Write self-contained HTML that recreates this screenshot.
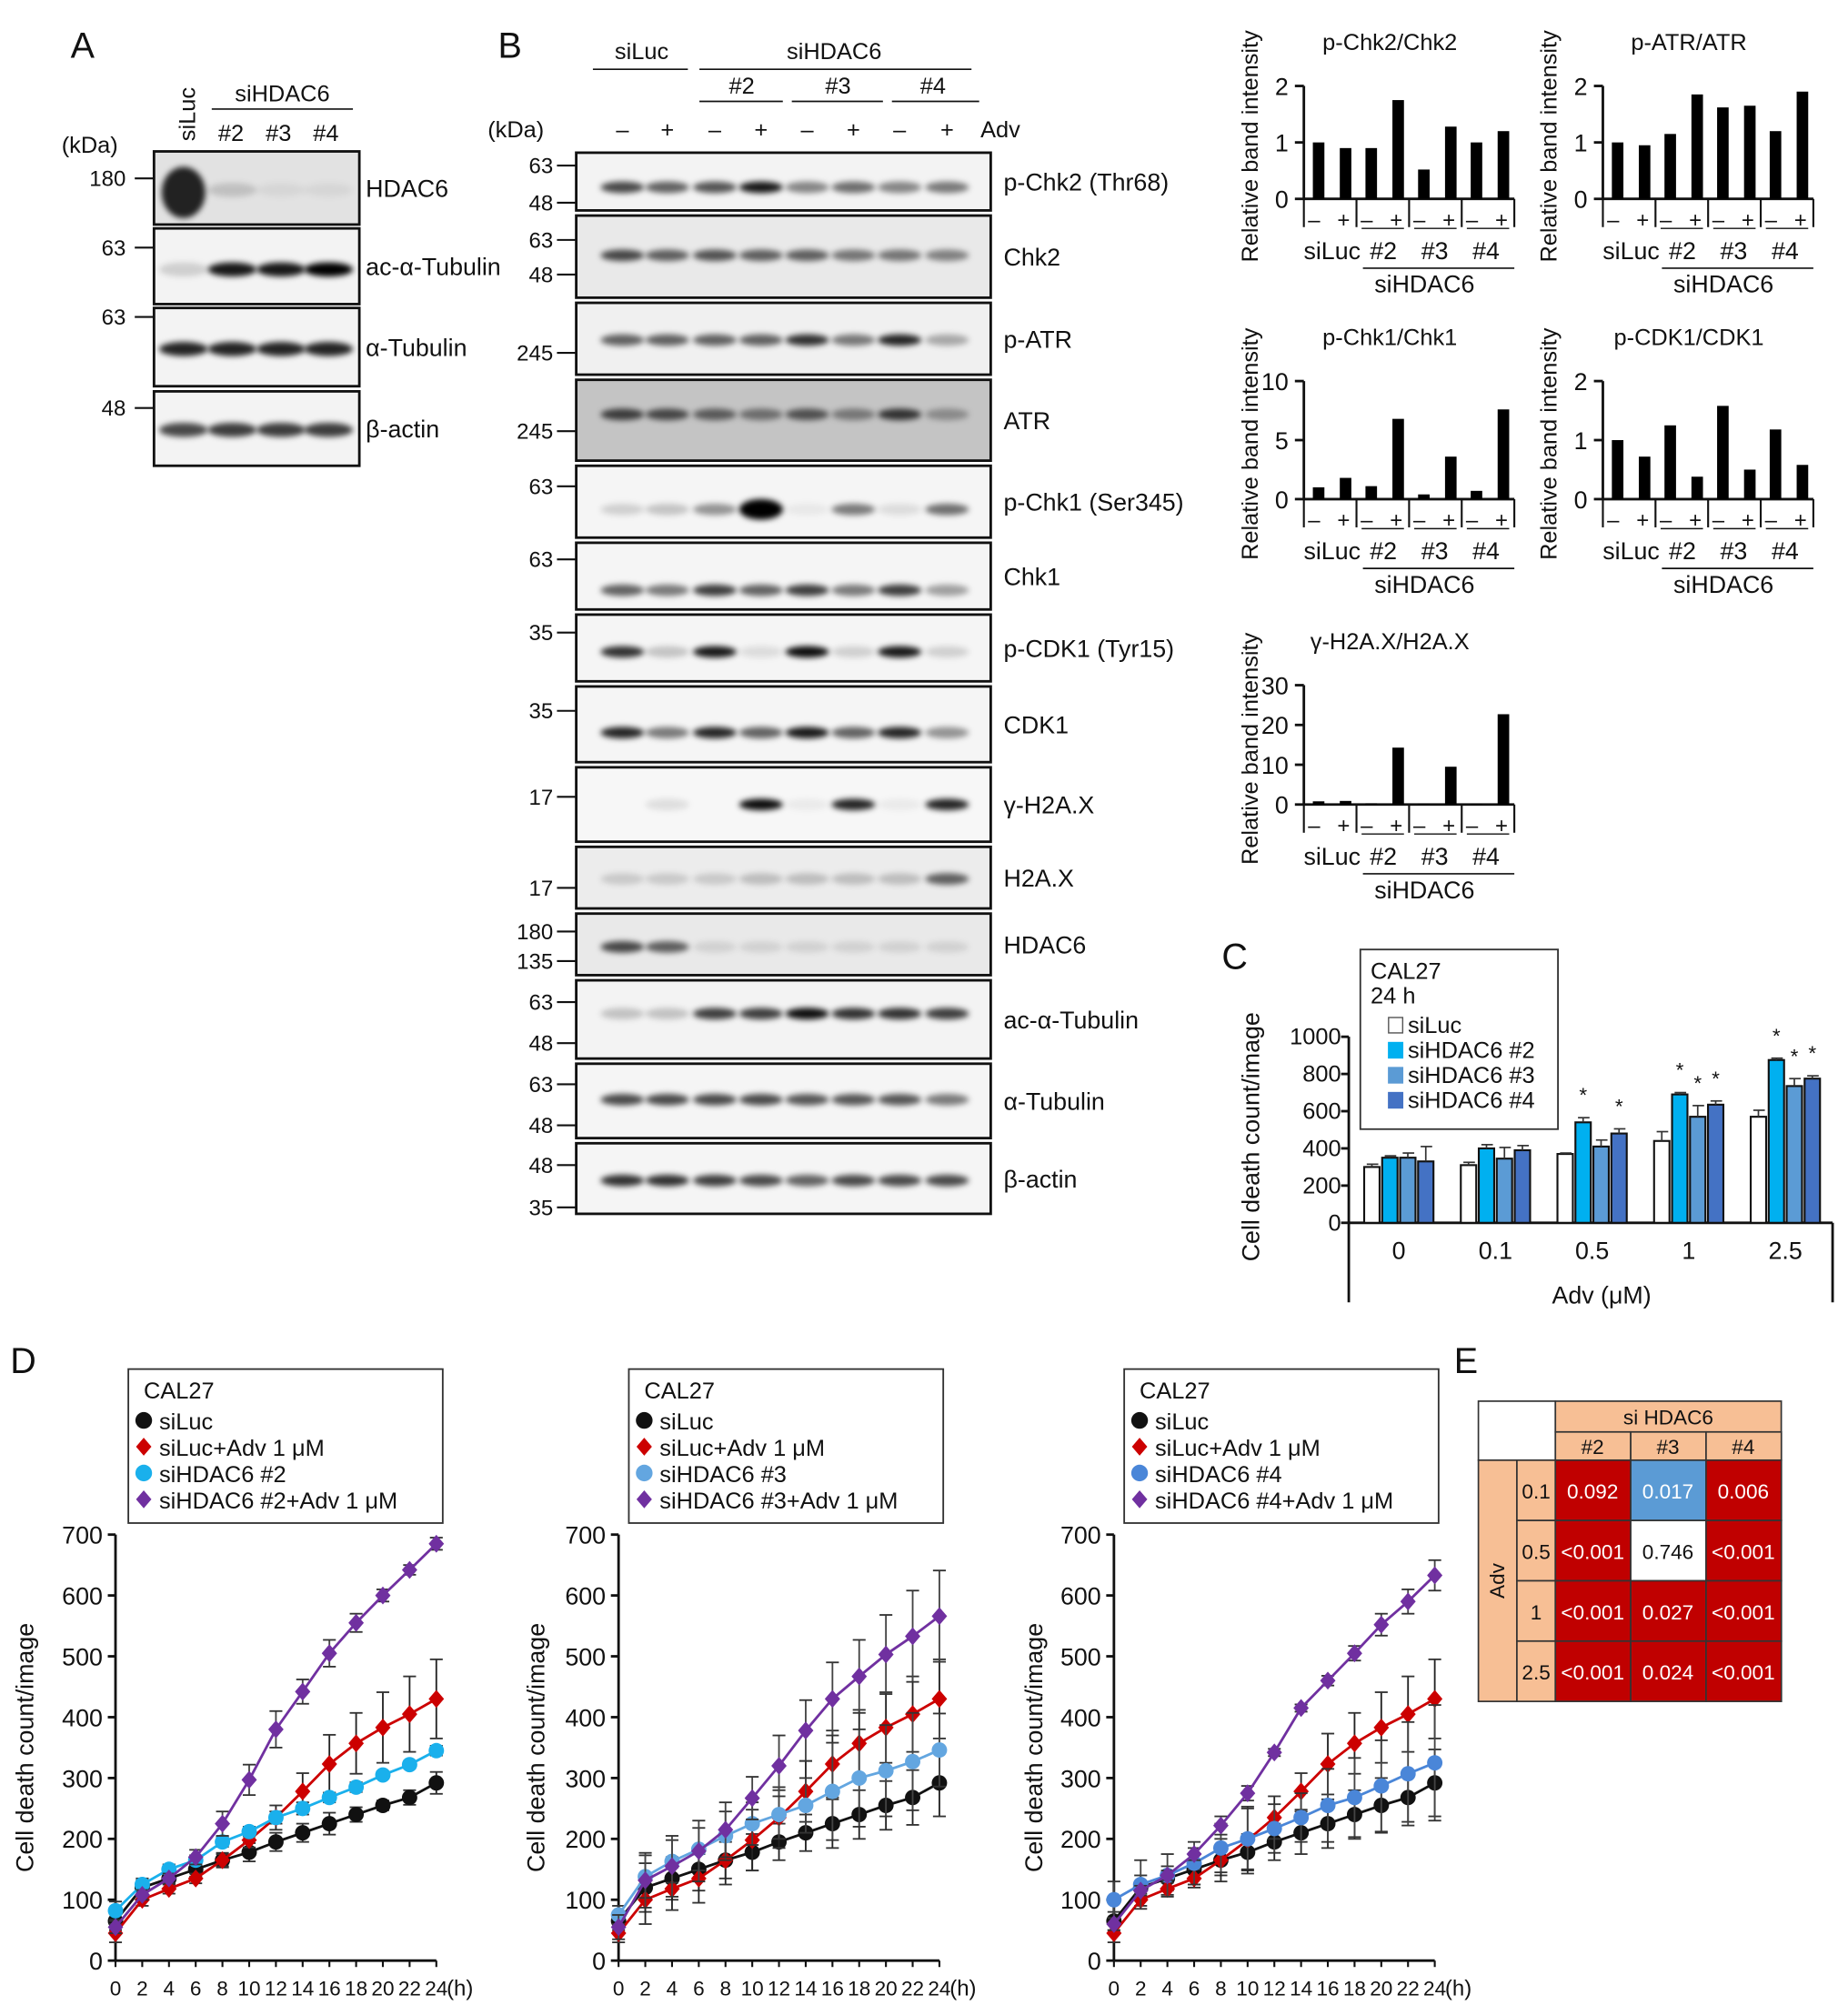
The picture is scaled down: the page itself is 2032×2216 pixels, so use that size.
<!DOCTYPE html>
<html><head><meta charset="utf-8"><style>
html,body{margin:0;padding:0;background:#fff;}
svg{display:block;font-family:"Liberation Sans",Arial,sans-serif;}
</style></head><body>
<svg id="fig" xmlns="http://www.w3.org/2000/svg" width="2032" height="2216" viewBox="0 0 1440 1570.4">
<defs><filter id="bl" x="-50%" y="-200%" width="200%" height="500%"><feGaussianBlur stdDeviation="2.2"/></filter></defs>
</svg>
<script>
// ---------- data ----------
// Panel A blots
const aRows=["HDAC6","ac-α-Tubulin","α-Tubulin","β-actin"];
const aBands=[[1,0.15,0.05,0.05],[0.15,0.9,0.9,1],[0.85,0.85,0.85,0.85],[0.7,0.75,0.75,0.75]];
// Panel B blots
const bRows=["p-Chk2 (Thr68)","Chk2","p-ATR","ATR","p-Chk1 (Ser345)","Chk1","p-CDK1 (Tyr15)","CDK1","γ-H2A.X","H2A.X","HDAC6","ac-α-Tubulin","α-Tubulin","β-actin"];
const bBands=[
[.7,.6,.65,.9,.45,.55,.45,.5],[.7,.6,.65,.6,.6,.5,.5,.45],[.6,.6,.6,.6,.8,.5,.85,.3],[.7,.65,.55,.45,.6,.4,.75,.3],
[.15,.2,.4,1,.05,.5,.1,.55],[.6,.5,.75,.6,.75,.5,.75,.35],[.8,.2,.9,.1,.95,.15,.9,.15],[.85,.5,.85,.6,.9,.6,.85,.4],
[0,.1,0,.95,.05,.85,.05,.85],[.15,.15,.15,.2,.2,.2,.2,.6],[.7,.6,.1,.1,.1,.1,.1,.1],[.2,.2,.75,.75,.95,.8,.8,.75],
[.7,.7,.7,.7,.65,.65,.65,.5],[.8,.8,.75,.7,.6,.7,.7,.7]];
// Quantification bar charts
const qTitles=["p-Chk2/Chk2","p-ATR/ATR","p-Chk1/Chk1","p-CDK1/CDK1","γ-H2A.X/H2A.X"];
const qMax=[2,2,10,2,30];
const qTicks=[[0,1,2],[0,1,2],[0,5,10],[0,1,2],[0,10,20,30]];
const qChk2=[1.0,0.9,0.9,1.75,0.52,1.28,1.0,1.2];
const qATR=[1.0,0.95,1.15,1.85,1.62,1.65,1.2,1.9];
const qChk1=[1.0,1.8,1.1,6.8,0.4,3.6,0.7,7.6];
const qCDK1=[1.0,0.72,1.25,0.38,1.58,0.5,1.18,0.58];
const qH2AX=[0.8,0.9,0.3,14.3,0.2,9.5,0.1,22.7];
// Panel C
const cCats=["0","0.1","0.5","1","2.5"];
const cSeries=["siLuc","siHDAC6 #2","siHDAC6 #3","siHDAC6 #4"];
const cLuc=[300,310,370,440,570];
const cH2=[350,400,540,690,875];
const cH3=[350,345,410,570,735];
const cH4=[330,390,480,635,775];
const cErrLuc=[15,15,5,50,35];
const cErrH2=[10,20,25,10,10];
const cErrH3=[25,60,35,60,40];
const cErrH4=[80,25,25,20,15];
const cStars=[[0,0,0,0],[0,0,0,0],[0,1,0,1],[0,1,1,1],[0,1,1,1]];
const cTicks=[0,200,400,600,800,1000];
// Panel D
const dHours=[0,2,4,6,8,10,12,14,16,18,20,22,24];
const dTicks=[0,100,200,300,400,500,600,700];
const dLuc=[65,120,135,150,165,178,195,210,225,240,255,268,292];
const dLucAdv=[45,100,118,135,165,198,235,278,323,357,383,405,430];
const d1H=[82,125,150,165,195,212,235,250,268,285,305,322,345];
const d1HAdv=[55,108,135,170,225,297,380,442,505,555,600,642,685];
const d2H=[75,138,163,183,205,225,240,255,278,300,312,327,346];
const d2HAdv=[55,132,155,180,215,267,320,378,430,467,503,533,566];
const d3H=[100,125,140,160,185,200,217,235,255,268,287,307,325];
const d3HAdv=[60,115,140,175,222,275,342,415,460,505,552,590,633];
const e1Luc=[15,12,10,12,12,15,15,15,18,12,8,12,18];
const e1LucAdv=[15,10,8,8,10,12,20,30,48,50,58,62,65];
const e1H=[15,10,8,8,8,8,10,10,8,8,6,6,8];
const e1HAdv=[10,8,8,12,20,25,30,20,22,15,10,8,10];
const e2Luc=[15,40,35,35,30,30,30,30,40,40,40,45,55];
const e2LucAdv=[15,40,35,40,40,50,50,50,55,55,58,62,65];
const e2H=[15,35,35,35,40,35,40,45,80,80,75,80,60];
const e2HAdv=[20,45,50,50,45,35,50,50,60,60,65,75,75];
const e3Luc=[15,20,20,25,25,30,30,35,40,40,45,40,55];
const e3LucAdv=[15,10,10,15,35,55,35,30,50,50,58,62,65];
const e3H=[30,40,35,35,40,50,40,40,60,65,75,85,95];
const e3HAdv=[10,8,8,10,15,12,6,6,8,12,18,20,25];
// Panel E
const eCols=["#2","#3","#4"];
const eRowLabels=["0.1","0.5","1","2.5"];
const eVals=[["0.092","0.017","0.006"],["<0.001","0.746","<0.001"],["<0.001","0.027","<0.001"],["<0.001","0.024","<0.001"]];
const eColors=[["#c00000","#5b9bd5","#c00000"],["#c00000","#ffffff","#c00000"],["#c00000","#c00000","#c00000"],["#c00000","#c00000","#c00000"]];

// ---------- helpers ----------
const NS="http://www.w3.org/2000/svg";
const svg=document.getElementById('fig');
function mk(tag,attrs,name,parent){
  const el=document.createElementNS(NS,tag);
  for(const k in attrs) el.setAttribute(k,attrs[k]);
  
  
  (parent||svg).appendChild(el);return el;}
function tx(x,y,s,size,name,opt){
  opt=opt||{};
  const el=mk('text',{x:x,y:y,'font-size':size,'text-anchor':opt.a||'start',fill:opt.fill||'#111','font-weight':opt.w||'normal'},name,opt.p);
  if(opt.rot) el.setAttribute('transform','rotate('+opt.rot+' '+x+' '+y+')');
  el.textContent=s;return el;}
function ln(x1,y1,x2,y2,name,w,c){return mk('line',{x1:x1,y1:y1,x2:x2,y2:y2,stroke:c||'#111','stroke-width':w||1.5},name);}

// ---------- Panel letters ----------
[["A",55,45],["B",388,45],["C",952,755],["D",8,1070],["E",1133,1070]].forEach(p=>tx(p[1],p[2],p[0],28,'panel-label-'+p[0].toLowerCase()));

// ---------- Panel A ----------
tx(152,110,"siLuc",18,'lane-label-siluc',{rot:-90});
tx(220,79,"siHDAC6",18,'group-label-sihdac6',{a:'middle'});
ln(165,85,275,85,'group-line-sihdac6',1.2);
["#2","#3","#4"].forEach((s,i)=>tx(180+i*37,110,s,18,'lane-label-'+s,{a:'middle'}));
tx(48,119,"(kDa)",18,'kda-label-a');
const aBox=[[118,175],[178,237],[240,301],[305,363]];
const aMW=[[["180",139]],[["63",193]],[["63",247]],[["48",318]]];
const aLanes=[143,181,219,256];
aRows.forEach((r,i)=>{
  const [y0,y1]=aBox[i];
  mk('rect',{x:120,y:y0,width:160,height:y1-y0,fill:i==0?'#e2e2e2':'#f3f3f3',stroke:'#111','stroke-width':2},'blot-a-'+i);
  aBands[i].forEach((v,j)=>{
    const cy=[148,210,272,335][i];
    const big=i==0&&j==0;
    mk('ellipse',{cx:aLanes[j],cy:big?150:cy,rx:big?17:19,ry:big?20:5.5,fill:'#000','fill-opacity':big?0.85:v,filter:'url(#bl)'},'band-a-'+i+'-'+j);
  });
  tx(285,(y0+y1)/2+7,r,19,'blot-a-label-'+i);
  aMW[i].forEach(m=>{tx(98,m[1]+6,m[0],17,'mw-a',{a:'end'});ln(105,m[1],120,m[1],'mw-tick-a',1.5);});
});

// ---------- Panel B ----------
tx(500,46,"siLuc",18,'group-label-siluc-b',{a:'middle'});ln(462,54,536,54,'line-siluc-b',1.2);
tx(650,46,"siHDAC6",18,'group-label-sihdac6-b',{a:'middle'});ln(545,54,757,54,'line-sihdac6-b',1.2);
[["#2",578,545,610],["#3",653,617,688],["#4",727,695,763]].forEach(g=>{tx(g[1],73,g[0],18,'sub-label-b',{a:'middle'});ln(g[2],79,g[3],79,'sub-line-b',1.2);});
tx(380,107,"(kDa)",18,'kda-label-b');
const bLanes=[485,520,557,593,629,665,701,738];
bLanes.forEach((x,i)=>tx(x,107,i%2?"+":"–",18,'adv-sign-b',{a:'middle'}));
tx(764,107,"Adv",18,'adv-label-b');
const bBox=[[119,164],[168,232],[236,292],[296,359],[363,419],[423,475],[479,531],[535,594],[598,656],[660,708],[712,760],[764,825],[829,887],[891,946]];
const bMW=[[["63",129],["48",158]],[["63",187],["48",214]],[["245",275]],[["245",336]],[["63",379]],[["63",436]],[["35",493]],[["35",554]],[["17",621]],[["17",692]],[["180",726],["135",749]],[["63",781],["48",813]],[["63",845],["48",877]],[["48",908],["35",941]]];
const bBandY=[146,199,265,323,397,460,508,571,627,685,738,790,857,920];
const bBg=['#f3f3f3','#e9e9e9','#f0f0f0','#c4c4c4','#f5f5f5','#f5f5f5','#f5f5f5','#f5f5f5','#f7f7f7','#ececec','#e9e9e9','#f3f3f3','#f5f5f5','#f5f5f5'];
bRows.forEach((r,i)=>{
  const [y0,y1]=bBox[i];
  mk('rect',{x:449,y:y0,width:323,height:y1-y0,fill:bBg[i],stroke:'#111','stroke-width':2},'blot-b-'+i);
  bBands[i].forEach((v,j)=>{
    if(v<=0) return;
    mk('ellipse',{cx:bLanes[j],cy:bBandY[i],rx:17,ry:(i==4&&j==3)?8:4.5,fill:'#000','fill-opacity':v,filter:'url(#bl)'},'band-b-'+i+'-'+j);
  });
  tx(782,(y0+y1)/2+7,r,19,'blot-b-label-'+i);
  bMW[i].forEach(m=>{tx(431,m[1]+6,m[0],17,'mw-b',{a:'end'});ln(434,m[1],449,m[1],'mw-tick-b',1.5);});
});

// ---------- Quantification bar charts ----------
const qData=[qChk2,qATR,qChk1,qCDK1,qH2AX];
const qPos=[[1016,67,155],[1249,67,155],[1016,297,389],[1249,297,389],[1016,534,627]];
qData.forEach((vals,k)=>{
  const [x0,yt,yb]=qPos[k];
  const yS=v=>yb-(v/qMax[k])*(yb-yt);
  const xS=i=>x0+11+Math.floor(i/2)*41+(i%2)*21;
  tx(x0+67,yt-28,qTitles[k],18,'quant-title-'+k,{a:'middle'});
  tx(x0-36,(yt+yb)/2+3,"Relative band intensity",18,'quant-ylabel-'+k,{a:'middle',rot:-90});
  ln(x0,yt,x0,yb,'quant-yaxis-'+k,2);
  qTicks[k].forEach(t=>{ln(x0-7,yS(t),x0,yS(t),'quant-ytick',2);tx(x0-12,yS(t)+7,String(t),19,'quant-ytick-label',{a:'end'});});
  ln(x0,yb,x0+164,yb,'quant-xaxis-'+k,2);
  [0,1,2,3,4].forEach(g=>ln(x0+g*41,yb,x0+g*41,yb+22,'quant-group-sep',1.5));
  vals.forEach((v,i)=>{
    mk('rect',{x:xS(i)-4,y:yS(v),width:9,height:yb-yS(v),fill:'#000'},'quant-bar-'+k+'-'+i);
    tx(xS(i)+(i%2?-1:-3),yb+22,i%2?"+":"–",17,'quant-sign',{a:'middle'});
  });
  [1,2,3].forEach(g=>ln(x0+g*41+4,yb+23,x0+g*41+37,yb+23,'quant-sub-line',1));
  tx(x0+22,yb+47,"siLuc",19,'quant-siluc-label',{a:'middle'});
  ["#2","#3","#4"].forEach((s,g)=>tx(x0+62+g*40,yb+47,s,19,'quant-sub-label',{a:'middle'}));
  ln(x0+46,yb+54,x0+164,yb+54,'quant-sihdac6-line',1.2);
  tx(x0+94,yb+73,"siHDAC6",19,'quant-sihdac6-label',{a:'middle'});
});

// ---------- Panel C ----------
(function(){
  const x0=1051,yb=953,yt=808,xr=1428;
  const yS=v=>yb-(v/1000)*(yb-yt);
  const gX=i=>1063+i*75.3;
  const cols=['#ffffff','#00b0f0','#5b9bd5','#4472c4'];
  const vals=[cLuc,cH2,cH3,cH4];const errs=[cErrLuc,cErrH2,cErrH3,cErrH4];
  ln(x0,yt,x0,1015,'c-yaxis',2);ln(x0,yb,xr,yb,'c-xaxis',2);ln(xr,yb,xr,1015,'c-right-line',2);
  cTicks.forEach(t=>{ln(x0-6,yS(t),x0,yS(t),'c-ytick',2);tx(x0-6,yS(t)+6,String(t),18,'c-ytick-label',{a:'end'});});
  tx(981,886,"Cell death count/image",19,'c-ylabel',{a:'middle',rot:-90});
  cCats.forEach((c,i)=>{
    tx(gX(i)+27,981,c,19,'c-xtick-label',{a:'middle'});
    for(let s=0;s<4;s++){
      const x=gX(i)+s*14,v=vals[s][i],e=errs[s][i];
      mk('rect',{x:x,y:yS(v),width:12,height:yb-yS(v),fill:cols[s],stroke:'#111','stroke-width':1.5},'c-bar-'+i+'-'+s);
      ln(x+6,yS(v),x+6,yS(v+e),'c-errbar',1.2,'#333');ln(x+2,yS(v+e),x+11,yS(v+e),'c-errcap',1.2,'#333');
      if(cStars[i][s]) tx(x+6,yS(v+e)-12,"*",16,'c-star',{a:'middle'});
    }
  });
  tx(1248,1016,"Adv (μM)",19,'c-xlabel',{a:'middle'});
  mk('rect',{x:1060,y:740,width:154,height:140,fill:'#fff',stroke:'#333','stroke-width':1.3},'c-legend-box');
  tx(1068,763,"CAL27",18,'c-legend-title');tx(1068,782,"24 h",18,'c-legend-time');
  cSeries.forEach((s,i)=>{mk('rect',{x:1082,y:793+i*19.5,width:11,height:12,fill:cols[i],stroke:i?cols[i]:'#555','stroke-width':1},'c-legend-swatch-'+i);
    tx(1097,805+i*19.5,s,18,'c-legend-entry-'+i);});
})();

// ---------- Panel D ----------
function lineChart(ox,ylx,leg,series,errs,lbl){
  const x0=ox,x1=ox+250,yb=1528,yt=1196;
  const xS=h=>x0+(h/24)*(x1-x0);const yS=v=>yb-(v/700)*(yb-yt);
  ln(x0,yt,x0,yb,'d-yaxis',2);ln(x0,yb,x1,yb,'d-xaxis',2);
  dTicks.forEach(t=>{ln(x0-6,yS(t),x0,yS(t),'d-ytick',2);tx(x0-10,yS(t)+7,String(t),19,'d-ytick-label',{a:'end'});});
  dHours.forEach(h=>{ln(xS(h),yb,xS(h),yb+5,'d-xtick',1.5);tx(xS(h),yb+27,String(h),16,'d-xtick-label',{a:'middle'});});
  tx(x1+8,yb+27,"(h)",17,'d-unit');
  tx(ylx,1362,"Cell death count/image",19,'d-ylabel',{a:'middle',rot:-90});
  const cols=['#111','#cc0000',lbl[2],'#7030a0'];const dia=[0,1,0,1];
  series.forEach((d,s)=>{
    const e=errs[s];
    d.forEach((v,i)=>{const x=xS(dHours[i]);
      ln(x,yS(v-e[i]),x,yS(v+e[i]),'d-errbar',1.3,s==0||s==1?'#222':'#444');
      ln(x-5,yS(v+e[i]),x+5,yS(v+e[i]),'d-errcap',1.3,'#333');ln(x-5,yS(v-e[i]),x+5,yS(v-e[i]),'d-errcap',1.3,'#333');});
    mk('polyline',{points:d.map((v,i)=>xS(dHours[i])+','+yS(v)).join(' '),fill:'none',stroke:cols[s],'stroke-width':2},'d-line-'+s);
    d.forEach((v,i)=>{const x=xS(dHours[i]),y=yS(v);
      if(dia[s]) mk('polygon',{points:`${x},${y-7} ${x+6},${y} ${x},${y+7} ${x-6},${y}`,fill:cols[s]},'d-marker-'+s);
      else mk('circle',{cx:x,cy:y,r:6,fill:cols[s]},'d-marker-'+s);});
  });
  mk('rect',{x:leg,y:1067,width:245,height:120,fill:'#fff',stroke:'#333','stroke-width':1.3},'d-legend-box');
  tx(leg+12,1090,"CAL27",18,'d-legend-title');
  const names=["siLuc","siLuc+Adv 1 μM",lbl[0],lbl[1]];
  names.forEach((n,i)=>{const y=1107+i*20.5;
    if(dia[i]) mk('polygon',{points:`${leg+12},${y-7} ${leg+18},${y} ${leg+12},${y+7} ${leg+6},${y}`,fill:cols[i]},'d-legend-marker');
    else mk('circle',{cx:leg+12,cy:y,r:6.5,fill:cols[i]},'d-legend-marker');
    tx(leg+24,y+7,n,18,'d-legend-entry-'+i);});
}
lineChart(90,26,100,[dLuc,dLucAdv,d1H,d1HAdv],[e1Luc,e1LucAdv,e1H,e1HAdv],["siHDAC6 #2","siHDAC6 #2+Adv 1 μM","#1ab0ec"]);
lineChart(482,424,490,[dLuc,dLucAdv,d2H,d2HAdv],[e2Luc,e2LucAdv,e2H,e2HAdv],["siHDAC6 #3","siHDAC6 #3+Adv 1 μM","#63a6e0"]);
lineChart(868,812,876,[dLuc,dLucAdv,d3H,d3HAdv],[e3Luc,e3LucAdv,e3H,e3HAdv],["siHDAC6 #4","siHDAC6 #4+Adv 1 μM","#4a86d8"]);

// ---------- Panel E ----------
(function(){
  const pe='#f7bf95',bd='#333';
  mk('rect',{x:1152,y:1092,width:60,height:46,fill:'#fff',stroke:bd,'stroke-width':1.2},'e-corner');
  mk('rect',{x:1212,y:1092,width:176,height:24,fill:pe,stroke:bd,'stroke-width':1.2},'e-header-sihdac6');
  tx(1300,1110,"si HDAC6",16,'e-header-text',{a:'middle'});
  eCols.forEach((c,j)=>{mk('rect',{x:1212+j*58.7,y:1116,width:58.7,height:22,fill:pe,stroke:bd,'stroke-width':1.2},'e-col-header');
    tx(1241+j*58.7,1133,c,16,'e-col-header-text',{a:'middle'});});
  mk('rect',{x:1152,y:1138,width:30,height:188,fill:pe,stroke:bd,'stroke-width':1.2},'e-adv-header');
  tx(1172,1232,"Adv",16,'e-adv-text',{a:'middle',rot:-90});
  eRowLabels.forEach((r,i)=>{const y=1138+i*47;
    mk('rect',{x:1182,y:y,width:30,height:47,fill:pe,stroke:bd,'stroke-width':1.2},'e-row-header');
    tx(1197,y+30,r,16,'e-row-header-text',{a:'middle'});
    eVals[i].forEach((v,j)=>{const white=eColors[i][j]=='#ffffff';
      mk('rect',{x:1212+j*58.7,y:y,width:58.7,height:47,fill:eColors[i][j],stroke:bd,'stroke-width':1.2},'e-cell-'+i+'-'+j);
      tx(1241+j*58.7,y+30,v,16,'e-cell-text',{a:'middle',fill:white?'#111':'#fff'});});
  });
})();
</script>
</body></html>
